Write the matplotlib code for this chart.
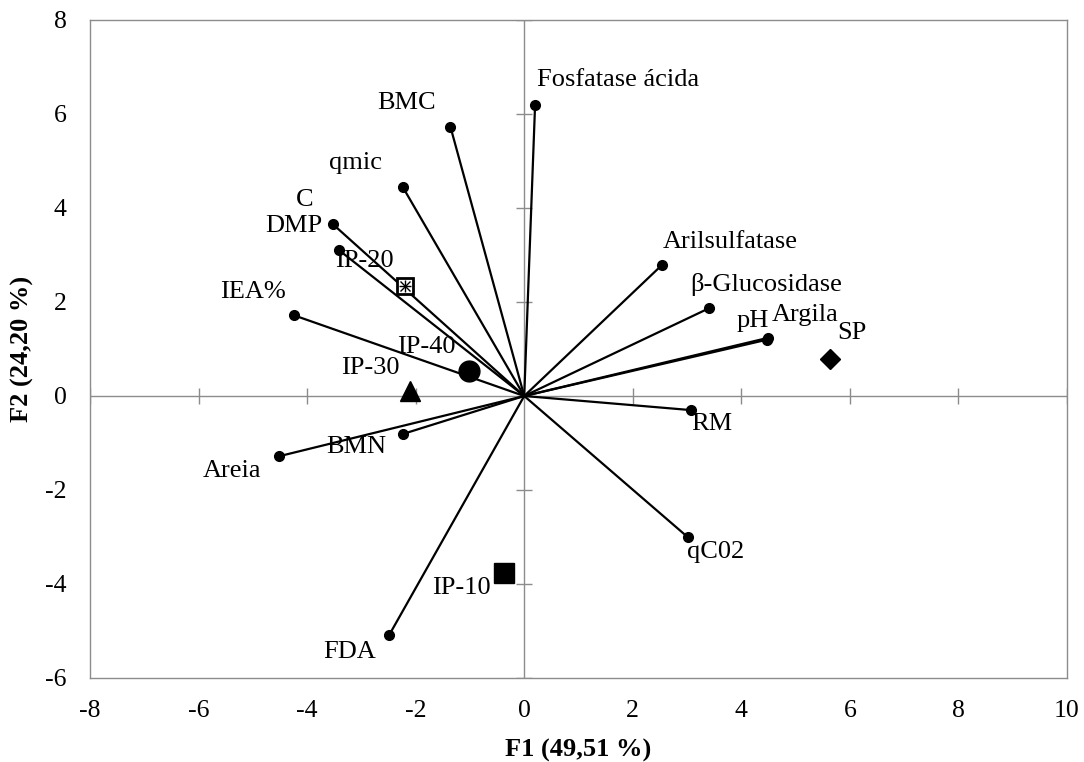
import matplotlib
matplotlib.use("Agg")
import matplotlib.pyplot as plt

plt.rcParams['font.family'] = ['Liberation Serif', 'DejaVu Serif']

# Variable loadings (F1, F2)
var_names = ["Fosfatase ácida", "BMC", "qmic", "C", "DMP", "IEA%", "Areia", "BMN",
             "FDA", "qC02", "RM", "Arilsulfatase", "β-Glucosidase", "pH", "Argila"]
var_f1 = [0.20, -1.36, -2.24, -3.42, -3.52, -4.25, -4.51, -2.24,
          -2.49, 3.02, 3.07, 2.54, 3.41, 4.48, 4.50]
var_f2 = [6.19, 5.73, 4.45, 3.11, 3.65, 1.72, -1.28, -0.81,
          -5.09, -3.01, -0.30, 2.79, 1.87, 1.20, 1.24]

# Treatment scores (F1, F2)
obs_names = ["IP-10", "IP-20", "IP-30", "IP-40", "SP"]
obs_f1 = [-0.37, -2.19, -2.10, -1.01, 5.64]
obs_f2 = [-3.77, 2.33, 0.10, 0.53, 0.79]

x_ticks = [-8, -6, -4, -2, 0, 2, 4, 6, 8, 10]
y_ticks = [-6, -4, -2, 0, 2, 4, 6, 8]

# label offsets in pixels (dx, dy) and horizontal alignment
var_label_pos = {
    "Fosfatase ácida": (2, 25, "left"),
    "BMC": (-15, 24, "right"),
    "qmic": (-21, 24, "right"),
    "C": (-25, 50, "right"),
    "DMP": (-11, -2, "right"),
    "IEA%": (-8, 23, "right"),
    "Areia": (-18, -15, "right"),
    "BMN": (-16, -13, "right"),
    "FDA": (-13, -17, "right"),
    "qC02": (-1, -15, "left"),
    "RM": (0, -14, "left"),
    "Arilsulfatase": (1, 23, "left"),
    "β-Glucosidase": (-19, 24, "left"),
    "pH": (2, 19, "right"),
    "Argila": (3, 23, "left"),
}
obs_label_pos = {
    "IP-10": (-13, -15, "right"),
    "IP-20": (-12, 25, "right"),
    "IP-30": (-11, 23, "right"),
    "IP-40": (-14, 24, "right"),
    "SP": (7, 26, "left"),
}

DPI = 100
fig = plt.figure(figsize=(10.84, 7.62), dpi=DPI)
ax = fig.add_axes([90 / 1084, 1 - 678 / 762, (1067 - 90) / 1084, (678 - 20) / 762])
ax.set_xlim(-8, 10)
ax.set_ylim(-6, 8)

grey = "#8c8c8c"
for s in ax.spines.values():
    s.set_color(grey)
    s.set_linewidth(1.0)

ax.set_xticks(x_ticks)
ax.set_yticks(y_ticks)
ax.set_xticklabels([str(t) for t in x_ticks])
ax.set_yticklabels([str(t) for t in y_ticks])
ax.tick_params(length=0, labelsize=18.5)
ax.tick_params(axis="x", pad=16)
ax.tick_params(axis="y", pad=17)

# zero axes with crossing tick marks
ax.axhline(0, color=grey, lw=1.0, zorder=1)
ax.axvline(0, color=grey, lw=1.0, zorder=1)
tk = [t for t in x_ticks if t != 0]
ax.plot(tk, [0] * len(tk), ls="none", marker="|", ms=11, mew=1.0, color=grey, zorder=1)
tky = [t for t in y_ticks if t != 0]
ax.plot([0] * len(tky), tky, ls="none", marker="_", ms=11, mew=1.0, color=grey, zorder=1)

px = 72 / DPI
fs = 19

# loading vectors
for name, x, y in zip(var_names, var_f1, var_f2):
    ax.plot([0, x], [0, y], color="black", lw=1.6, zorder=3)
    ax.plot(x, y, "o", color="black", ms=7, zorder=4)
    dx, dy, ha = var_label_pos[name]
    ax.annotate(name, (x, y), xytext=(dx * px, dy * px), textcoords="offset points",
                ha=ha, va="center", fontsize=fs, zorder=5)

# treatment markers
markers = {"IP-10": "s", "IP-20": "s", "IP-30": "^", "IP-40": "o", "SP": "D"}
sizes = {"IP-10": 14, "IP-20": 12, "IP-30": 14, "IP-40": 15, "SP": 10}
for name, x, y in zip(obs_names, obs_f1, obs_f2):
    if name == "IP-20":
        ax.plot(x, y, "s", mfc="white", mec="black", mew=2.0, ms=sizes[name], zorder=6)
        ax.plot(x, y, "x", color="black", mew=1.0, ms=7, zorder=7)
        ax.plot(x, y, "+", color="black", mew=1.0, ms=8, zorder=7)
    else:
        ax.plot(x, y, markers[name], color="black", ms=sizes[name], zorder=6)
    dx, dy, ha = obs_label_pos[name]
    ax.annotate(name, (x, y), xytext=(dx * px, dy * px), textcoords="offset points",
                ha=ha, va="center", fontsize=fs, zorder=8)

ax.set_xlabel("F1 (49,51 %)", fontsize=19, fontweight="bold", labelpad=12)
ax.set_ylabel("F2 (24,20 %)", fontsize=19, fontweight="bold", labelpad=8)

fig.savefig("out.png", dpi=DPI)
